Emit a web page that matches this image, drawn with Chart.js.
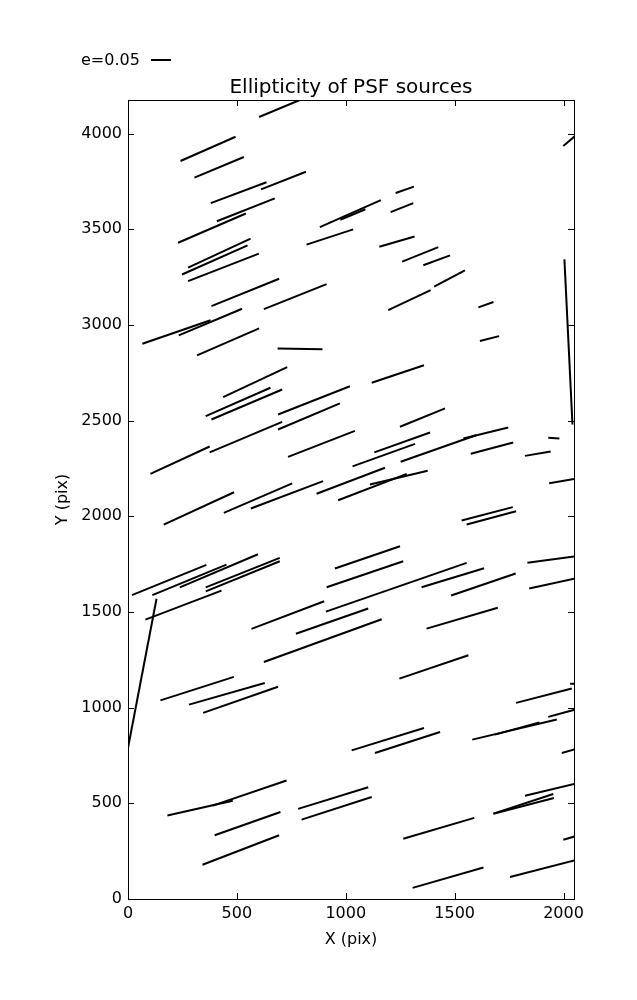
<!DOCTYPE html>
<html>
<head>
<meta charset="utf-8">
<script src="https://cdn.jsdelivr.net/npm/chart.js@4/dist/chart.umd.min.js"></script>
<style>
  html, body { margin: 0; padding: 0; background: #fff; }
  canvas { display: block; }
</style>
</head>
<body>
<canvas id="chart" width="637" height="1000"></canvas>
<script>
// whisker end points (pix), one entry per PSF source
const x0 = [602,1999,241,305,380,611,230,408,881,975,
  1229,1206,820,276,248,276,1154,1259,1356,383,
  624,1195,1406,1609,2004,66,233,317,687,1616,
  437,1119,357,383,689,689,1249,103,375,735,
  1131,1031,1252,1540,1574,1930,1823,1934,164,440,
  564,866,965,1111,1532,1555,950,912,18,112,
  238,357,357,80,131,567,771,909,1348,1484,
  1834,1842,624,1371,1246,149,280,345,1782,2030,
  1930,1027,1134,1581,1685,1992,181,389,398,342,
  781,797,1264,1307,1823,1678,1678,1999,1754];
const y0 = [4087,3935,3857,3770,3637,3709,3430,3542,3512,3550,
  3690,3590,3420,3300,3264,3229,3409,3331,3312,3099,
  3083,3078,3200,3092,3343,2902,2946,2841,2877,2916,
  2623,2698,2524,2506,2532,2454,2468,2222,2334,2311,
  2334,2261,2285,2407,2327,2411,2316,2173,1957,2018,
  2041,2118,2084,2166,1978,1957,1727,1629,1588,1588,
  1629,1629,1608,1460,1569,1412,1386,1502,1629,1586,
  1757,1623,1239,1413,1152,1038,1016,973,1025,1125,
  952,777,763,833,859,763,436,488,333,179,
  471,415,315,58,540,446,446,310,115];
const x1 = [797,2050,494,532,636,817,541,674,1161,1090,
  1313,1310,1034,563,549,601,1316,1425,1479,694,
  912,1390,1547,1678,2041,379,524,602,893,1704,
  731,1359,654,708,1019,973,1456,375,708,1042,
  1387,1318,1598,1746,1769,1981,1941,2060,487,754,
  896,1180,1280,1376,1767,1782,1249,1264,360,452,
  597,697,697,429,-10,901,1103,1555,1635,1780,
  2053,2053,1165,1698,1563,486,628,689,2038,2060,
  2060,1359,1433,1969,1889,2060,481,728,700,694,
  1103,1119,1590,1632,2060,1953,1956,2060,2060];
const y1 = [4180,3985,3984,3878,3746,3801,3583,3662,3653,3605,
  3723,3637,3500,3451,3416,3373,3463,3407,3364,3242,
  3214,3182,3285,3120,2480,3025,3085,2982,2873,2942,
  2780,2790,2672,2663,2680,2590,2564,2365,2494,2447,
  2438,2379,2424,2464,2386,2407,2339,2198,2126,2172,
  2184,2254,2222,2238,2048,2027,1844,1765,1746,1748,
  1802,1783,1765,1612,730,1556,1518,1757,1729,1701,
  1791,1675,1462,1522,1274,1161,1129,1109,1100,1125,
  992,894,873,938,923,785,514,619,455,333,
  584,533,424,165,604,549,528,330,205];

const xTicks = [0, 500, 1000, 1500, 2000];
const yTicks = [0, 500, 1000, 1500, 2000, 2500, 3000, 3500, 4000];
const xRange = [0, 2048];
const yRange = [0, 4176];
const keyLabel = 'e=0.05';

Chart.defaults.font.family = '"DejaVu Sans", sans-serif';
Chart.defaults.color = '#000';

// one little two-point line per whisker
const datasets = x0.map((_, i) => ({
  data: [{ x: x0[i], y: y0[i] }, { x: x1[i], y: y1[i] }],
  showLine: true,
  borderColor: '#000',
  borderWidth: 2,
  borderCapStyle: 'butt',
  pointRadius: 0,
}));

// box round the plot, inward ticks on all four sides, and the e=0.05 key
const frameAndKey = {
  id: 'frameAndKey',
  afterDraw(chart) {
    const { ctx, chartArea: a, scales: { x, y } } = chart;
    ctx.save();
    ctx.strokeStyle = '#000';
    ctx.lineWidth = 1;
    ctx.strokeRect(a.left + 0.5, a.top + 0.5, a.right - a.left, a.bottom - a.top);
    ctx.beginPath();
    xTicks.forEach(v => {
      const px = Math.round(x.getPixelForValue(v)) + 0.5;
      ctx.moveTo(px, a.bottom); ctx.lineTo(px, a.bottom - 6);
      ctx.moveTo(px, a.top); ctx.lineTo(px, a.top + 6);
    });
    yTicks.forEach(v => {
      const py = Math.round(y.getPixelForValue(v)) + 0.5;
      ctx.moveTo(a.left, py); ctx.lineTo(a.left + 6, py);
      ctx.moveTo(a.right, py); ctx.lineTo(a.right - 6, py);
    });
    ctx.stroke();
    // key
    ctx.fillStyle = '#000';
    ctx.font = '16px "DejaVu Sans"';
    ctx.textBaseline = 'alphabetic';
    ctx.fillText(keyLabel, 81, 65);
    ctx.lineWidth = 2;
    ctx.beginPath();
    ctx.moveTo(151, 60);
    ctx.lineTo(171, 60);
    ctx.stroke();
    ctx.restore();
  }
};

new Chart(document.getElementById('chart'), {
  type: 'scatter',
  data: { datasets: datasets },
  plugins: [frameAndKey],
  options: {
    responsive: false,
    animation: false,
    devicePixelRatio: 1,
    layout: { padding: { top: 0, right: 63, bottom: 0, left: 0 } },
    plugins: {
      legend: { display: false },
      tooltip: { enabled: false },
      title: {
        display: true,
        fullSize: false,
        text: 'Ellipticity of PSF sources',
        color: '#000',
        font: { size: 20, weight: 'normal' },
        padding: { top: 76, bottom: 0 },
      },
    },
    scales: {
      x: {
        type: 'linear',
        min: xRange[0],
        max: xRange[1],
        grid: { display: false, drawTicks: false },
        border: { display: false },
        afterBuildTicks: s => { s.ticks = xTicks.map(v => ({ value: v })); },
        afterFit: s => { s.height = 101; },
        ticks: {
          autoSkip: false,
          maxRotation: 0,
          padding: 5,
          font: { size: 16 },
          callback: v => String(v),
        },
        title: {
          display: true,
          text: 'X (pix)',
          font: { size: 16 },
          padding: { top: 0, bottom: 51 },
        },
      },
      y: {
        type: 'linear',
        min: yRange[0],
        max: yRange[1],
        grid: { display: false, drawTicks: false },
        border: { display: false },
        afterBuildTicks: s => { s.ticks = yTicks.map(v => ({ value: v })); },
        afterFit: s => { s.width = 128; },
        ticks: {
          autoSkip: false,
          padding: 6,
          font: { size: 16 },
          callback: v => String(v),
        },
        title: {
          display: true,
          text: 'Y (pix)',
          font: { size: 16 },
          padding: { top: 53, bottom: 0 },
        },
      },
    },
  },
});
</script>
</body>
</html>
